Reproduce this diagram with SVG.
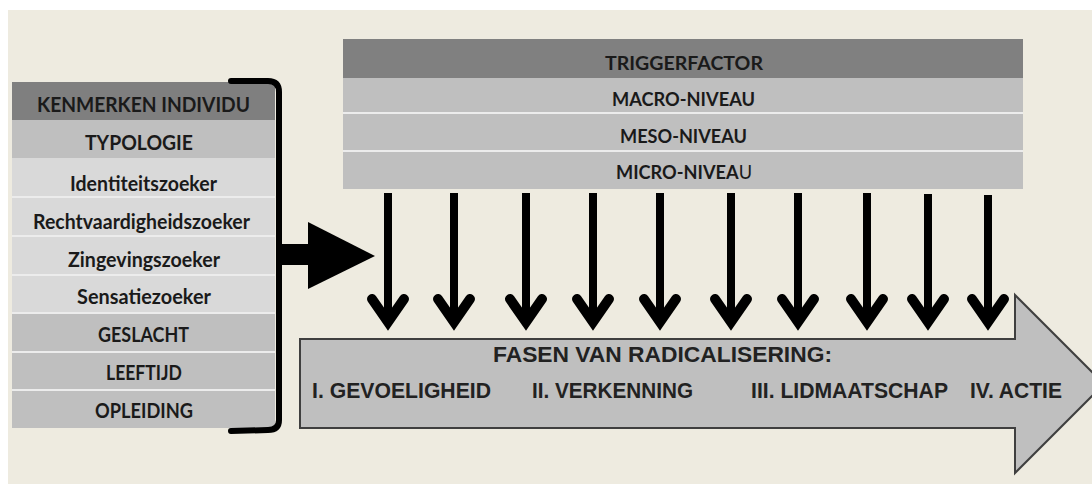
<svg xmlns="http://www.w3.org/2000/svg" width="1092" height="484" viewBox="0 0 1092 484">
<style>
.lt{font-family:Lato,"Open Sans","Liberation Sans",sans-serif;font-weight:bold;fill:#1a1a1a;text-anchor:start}
.ar{font-family:"Liberation Sans",Arial,sans-serif;font-weight:bold;fill:#222;font-size:22px}
.sep{stroke:#ececec;stroke-width:2}
.dn{fill:none;stroke:#000;stroke-width:10;stroke-linecap:round;stroke-linejoin:miter}
.sh{stroke:#000;stroke-width:8}
</style>
<rect x="0" y="0" width="1092" height="484" fill="#ffffff"/>
<rect x="8" y="10" width="1084" height="474" fill="#eeebe0"/>

<g id="kenmerken">
<rect x="12" y="82" width="263" height="38" fill="#7f7f7f"/>
<rect x="12" y="120" width="263" height="38" fill="#bfbfbf"/>
<rect x="12" y="158" width="263" height="155" fill="#d9d9d9"/>
<rect x="12" y="313" width="263" height="115" fill="#bfbfbf"/>
<line class="sep" x1="12" y1="197" x2="275" y2="197"/>
<line class="sep" x1="12" y1="236" x2="275" y2="236"/>
<line class="sep" x1="12" y1="275" x2="275" y2="275"/>
<line class="sep" x1="12" y1="313" x2="275" y2="313"/>
<line class="sep" x1="12" y1="352" x2="275" y2="352"/>
<line class="sep" x1="12" y1="390" x2="275" y2="390"/>
<text class="lt" x="37" y="112" font-size="20" textLength="213" lengthAdjust="spacingAndGlyphs">KENMERKEN INDIVIDU</text>
<text class="lt" x="85" y="150" font-size="20" textLength="108" lengthAdjust="spacingAndGlyphs">TYPOLOGIE</text>
<text class="lt" x="70" y="191" font-size="20" textLength="147" lengthAdjust="spacingAndGlyphs">Identiteitszoeker</text>
<text class="lt" x="33" y="229" font-size="20" textLength="217" lengthAdjust="spacingAndGlyphs">Rechtvaardigheidszoeker</text>
<text class="lt" x="68" y="267" font-size="20" textLength="152" lengthAdjust="spacingAndGlyphs">Zingevingszoeker</text>
<text class="lt" x="77" y="304" font-size="20" textLength="134" lengthAdjust="spacingAndGlyphs">Sensatiezoeker</text>
<text class="lt" x="98" y="342" font-size="20" textLength="91" lengthAdjust="spacingAndGlyphs">GESLACHT</text>
<text class="lt" x="106" y="380" font-size="20" textLength="76" lengthAdjust="spacingAndGlyphs">LEEFTIJD</text>
<text class="lt" x="95" y="418" font-size="20" textLength="98" lengthAdjust="spacingAndGlyphs">OPLEIDING</text>
</g>

<g id="bracket">
<path d="M231 81 L268 81 Q279 81 279 92 L279 420 Q279 430 268 430 L231 431" fill="none" stroke="#000" stroke-width="6" stroke-linecap="round"/>
</g>

<g id="trigger">
<rect x="343" y="39" width="680" height="39" fill="#808080"/>
<rect x="343" y="78" width="680" height="111" fill="#bfbfbf"/>
<line class="sep" x1="343" y1="113" x2="1023" y2="113"/>
<line class="sep" x1="343" y1="151" x2="1023" y2="151"/>
<text class="lt" x="605" y="70" font-size="19" textLength="158" lengthAdjust="spacingAndGlyphs">TRIGGERFACTOR</text>
<text class="lt" x="612" y="106" font-size="19" textLength="143" lengthAdjust="spacingAndGlyphs">MACRO-NIVEAU</text>
<text class="lt" x="620" y="143" font-size="19" textLength="127" lengthAdjust="spacingAndGlyphs">MESO-NIVEAU</text>
<text class="lt" x="616" y="179" font-size="19" textLength="136" lengthAdjust="spacingAndGlyphs">MICRO-NIVEA<tspan font-weight="normal">U</tspan></text>
</g>

<g id="fasen">
<path d="M300 339 L1015 339 L1015 295 L1104 384 L1015 473 L1015 428 L300 428 Z" fill="#bfbfbf" stroke="#3f3f3f" stroke-width="2"/>
<text class="ar" x="493" y="362" textLength="339" lengthAdjust="spacingAndGlyphs">FASEN VAN RADICALISERING:</text>
<text class="ar" x="312" y="398" textLength="179" lengthAdjust="spacingAndGlyphs">I. GEVOELIGHEID</text>
<text class="ar" x="532" y="398" textLength="161" lengthAdjust="spacingAndGlyphs">II. VERKENNING</text>
<text class="ar" x="751" y="398" textLength="197" lengthAdjust="spacingAndGlyphs">III. LIDMAATSCHAP</text>
<text class="ar" x="970" y="398" textLength="92" lengthAdjust="spacingAndGlyphs">IV. ACTIE</text>
</g>

<g id="connectors">
<rect x="279" y="244" width="31" height="21" fill="#000"/>
<polygon points="308,222 375,256 308,289" fill="#000"/>
<g>
<line class="sh" x1="388" y1="193" x2="388" y2="322"/><polyline class="dn" points="372,299 388,322 404,299"/>
<line class="sh" x1="454" y1="193" x2="454" y2="322"/><polyline class="dn" points="438,299 454,322 470,299"/>
<line class="sh" x1="526" y1="193" x2="526" y2="322"/><polyline class="dn" points="510,299 526,322 542,299"/>
<line class="sh" x1="593" y1="193" x2="593" y2="322"/><polyline class="dn" points="577,299 593,322 609,299"/>
<line class="sh" x1="660" y1="193" x2="660" y2="322"/><polyline class="dn" points="644,299 660,322 676,299"/>
<line class="sh" x1="731" y1="193" x2="731" y2="322"/><polyline class="dn" points="715,299 731,322 747,299"/>
<line class="sh" x1="798" y1="193" x2="798" y2="322"/><polyline class="dn" points="782,299 798,322 814,299"/>
<line class="sh" x1="867" y1="193" x2="867" y2="322"/><polyline class="dn" points="851,299 867,322 883,299"/>
<line class="sh" x1="928" y1="194" x2="928" y2="322"/><polyline class="dn" points="912,299 928,322 944,299"/>
<line class="sh" x1="988" y1="195" x2="988" y2="322"/><polyline class="dn" points="972,299 988,322 1004,299"/>
</g>
</g>
</svg>
